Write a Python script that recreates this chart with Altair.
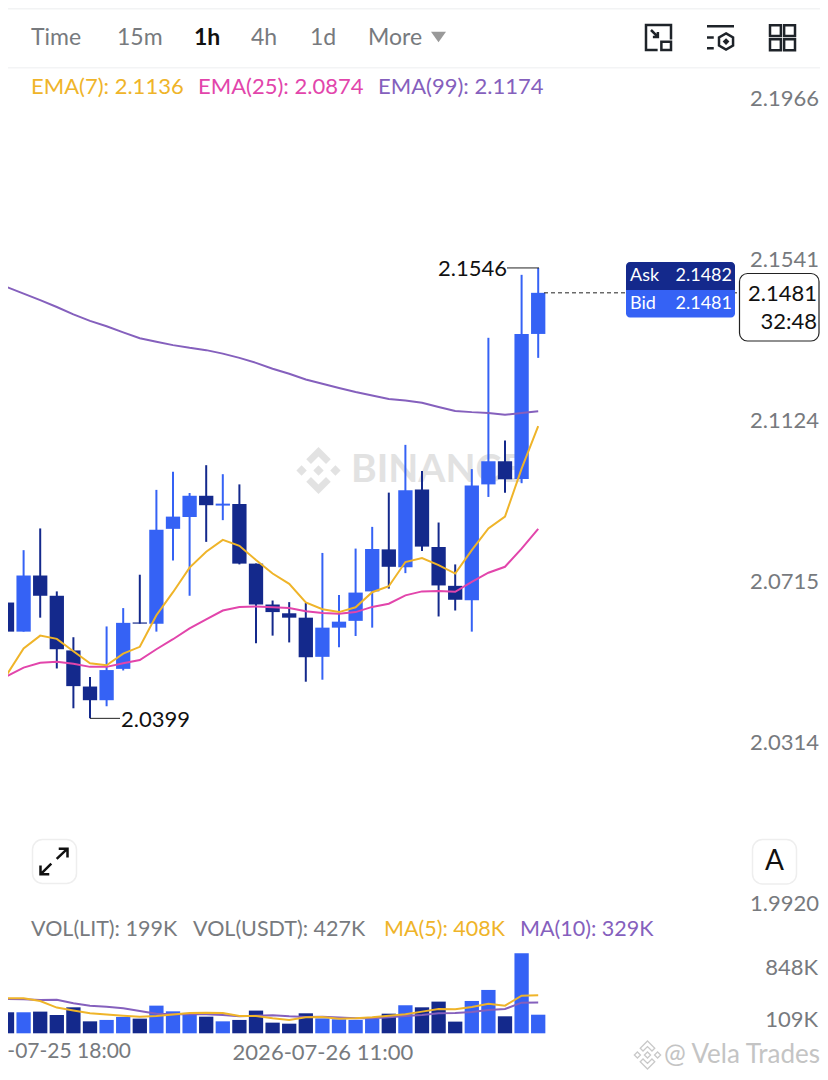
import altair as alt
import pandas as pd

FONT = "Lato"
DARK = "#14298c"
BLUE = "#3562f5"
YELLOW = "#efb429"
PINK = "#e245ab"
PURPLE = "#8560bd"
GRAY = "#777a7e"

# --- chart values -----------------------------------------------------------
opens = [2.0688, 2.0615, 2.0756, 2.0705, 2.0568, 2.0478, 2.0444, 2.0522, 2.0638, 2.0635, 2.0874,
         2.0904, 2.0958, 2.0933, 2.0937, 2.0786, 2.0683, 2.0661, 2.0650, 2.0552, 2.0625, 2.0642,
         2.0716, 2.0822, 2.0777, 2.0974, 2.0828, 2.0730, 2.0694, 2.0987, 2.1046, 2.1001, 2.1374]
closes = [2.0615, 2.0756, 2.0705, 2.0571, 2.0479, 2.0444, 2.0519, 2.0637, 2.0635, 2.0872, 2.0905,
          2.0958, 2.0934, 2.0938, 2.0786, 2.0683, 2.0664, 2.0650, 2.0551, 2.0625, 2.0640, 2.0713,
          2.0823, 2.0778, 2.0972, 2.0829, 2.0731, 2.0695, 2.0984, 2.1046, 2.1000, 2.1374, 2.1481]
highs = [2.0761, 2.0820, 2.0875, 2.0716, 2.0601, 2.0502, 2.0628, 2.0674, 2.0758, 2.0973, 2.1019,
         2.0965, 2.1036, 2.1013, 2.0987, 2.0786, 2.0693, 2.0689, 2.0687, 2.0813, 2.0707, 2.0824,
         2.0879, 2.0966, 2.1088, 2.1021, 2.0890, 2.0784, 2.1026, 2.1364, 2.1099, 2.1528, 2.1546]
lows = [2.0571, 2.0615, 2.0650, 2.0523, 2.0424, 2.0399, 2.0429, 2.0518, 2.0635, 2.0615, 2.0794,
        2.0705, 2.0841, 2.0896, 2.0784, 2.0586, 2.0605, 2.0588, 2.0490, 2.0495, 2.0576, 2.0604,
        2.0625, 2.0723, 2.0762, 2.0818, 2.0653, 2.0668, 2.0615, 2.0955, 2.0966, 2.0990, 2.1312]
ema7 = [2.0508, 2.0573, 2.0605, 2.0597, 2.0566, 2.0536, 2.0531, 2.0560, 2.0577, 2.0656, 2.0714,
        2.0776, 2.0816, 2.0846, 2.0831, 2.0795, 2.0761, 2.0735, 2.0688, 2.0671, 2.0664, 2.0676,
        2.0714, 2.0729, 2.0790, 2.0800, 2.0782, 2.0761, 2.0820, 2.0875, 2.0905, 2.1027, 2.1136]
ema25 = [2.0504, 2.0525, 2.0537, 2.0540, 2.0535, 2.0527, 2.0527, 2.0536, 2.0544, 2.0571, 2.0596,
         2.0623, 2.0646, 2.0668, 2.0677, 2.0678, 2.0676, 2.0674, 2.0666, 2.0662, 2.0660, 2.0664,
         2.0677, 2.0685, 2.0706, 2.0716, 2.0717, 2.0715, 2.0740, 2.0763, 2.0778, 2.0824, 2.0874]
ema99 = [2.1496, 2.1479, 2.1462, 2.1444, 2.1425, 2.1408, 2.1394, 2.1378, 2.1363, 2.1354, 2.1345,
         2.1338, 2.1332, 2.1323, 2.1312, 2.1299, 2.1284, 2.1271, 2.1256, 2.1245, 2.1234, 2.1224,
         2.1215, 2.1206, 2.1202, 2.1196, 2.1185, 2.1175, 2.1172, 2.1170, 2.1165, 2.1170, 2.1174]
volume = [225, 225, 232, 196, 278, 128, 143, 175, 157, 296, 235, 218, 178, 128, 143, 243, 114,
          103, 214, 160, 150, 143, 157, 210, 300, 278, 339, 125, 346, 464, 182, 856, 199]
ma5 = [375, 375, 346, 275, 243, 214, 200, 189, 178, 185, 200, 218, 221, 218, 185, 185, 160,
       143, 171, 175, 157, 160, 171, 189, 203, 232, 260, 257, 282, 317, 296, 403, 408]
ma10 = [367, 364, 357, 360, 321, 296, 285, 268, 239, 210, 203, 207, 203, 196, 182, 189, 193,
        182, 175, 178, 168, 160, 160, 171, 185, 196, 214, 218, 228, 250, 260, 328, 329]
price_ticks = [2.1966, 2.1541, 2.1124, 2.0715, 2.0314, 1.9920]
time_ticks = [19]
time_labels = ["2026-07-26 11:00"]
clipped_time_label = "-07-25 18:00"
last_price = 2.1481
high_price = 2.1546
low_price = 2.0399

df = pd.DataFrame({"i": range(len(opens)), "o": opens, "c": closes, "h": highs, "l": lows,
                   "ema7": ema7, "ema25": ema25, "ema99": ema99,
                   "v": volume, "ma5": ma5, "ma10": ma10})
df["top"] = df[["o", "c"]].max(axis=1)
df["bot"] = df[["o", "c"]].min(axis=1)
df["dir"] = ["up" if c >= o else "down" for o, c in zip(opens, closes)]

W, H = 812, 1064
x_scale = alt.Scale(domain=[1 / 16.6, 1 / 16.6 + W / 16.6], range=[0, W], nice=False, zero=False, padding=0)
y_scale = alt.Scale(type="log", domain=[1.9920, 2.1966], range=[906, 101], nice=False, zero=False)
v_scale = alt.Scale(domain=[0, 856], range=[1025.3, 945.3], nice=False, zero=False)
col_scale = alt.Scale(domain=["up", "down"], range=[BLUE, DARK])

X_NONE = alt.X("i:Q", scale=x_scale, axis=None)
label_expr = f"'{time_labels[0]}'"
base = alt.Chart(df)


def T(text, x, y, size=22, color=GRAY, align="left", weight="normal", font=FONT):
    return alt.Chart(pd.DataFrame({"t": [text]})).mark_text(
        align=align, baseline="middle", fontSize=size, color=color, fontWeight=weight, font=font
    ).encode(x=alt.value(x - 8), y=alt.value(y - 8), text="t:N")


def box(x1, y1, x2, y2, fill=None, stroke=None, sw=1.5, **kw):
    args = dict(kw)
    if fill:
        args["fill"] = fill
    else:
        args["fillOpacity"] = 0
    if stroke:
        args["stroke"] = stroke
        args["strokeWidth"] = sw
    return alt.Chart(pd.DataFrame({"a": [0]})).mark_rect(**args).encode(
        x=alt.value(x1 - 8), x2=alt.value(x2 - 8), y=alt.value(y1 - 8), y2=alt.value(y2 - 8))


def icon(path, cx, cy, side, color="#1e2329", sw=2.5, filled=False):
    args = dict(shape=path, size=side * side, opacity=1)
    if filled:
        args.update(filled=True, fill=color, strokeWidth=0)
    else:
        args.update(filled=False, stroke=color, strokeWidth=sw)
    return alt.Chart(pd.DataFrame({"a": [0]})).mark_point(**args).encode(
        x=alt.value(cx - 8), y=alt.value(cy - 8))


LOGO = ("M0 -.22L.22 0L0 .22L-.22 0Z M-.72 -.22L-.5 0L-.72 .22L-.94 0Z M.72 -.22L.94 0L.72 .22L.5 0Z "
        "M0 -1L.52 -.48L.32 -.28L0 -.6L-.32 -.28L-.52 -.48Z M0 1L.52 .48L.32 .28L0 .6L-.32 .28L-.52 .48Z")
ICON_1 = ("M1 .15L1 -1L-1 -1L-1 1L-.07 1 M.23 .33L1 .33L1 1L.23 1Z "
          "M-.6 -.6L-.05 -.05 M-.05 -.45L-.05 -.05L-.45 -.05")
ICON_2 = ("M-1 -.84L1 -.84 M-1 0L-.5 0 M-1 .8L-.5 .8 "
          "M.41 -.3L.93 0L.93 .6L.41 .9L-.11 .6L-.11 0Z M.41 .18L.53 .3L.41 .42L.29 .3Z")
ICON_3 = ("M-1 -1L-.13 -1L-.13 -.13L-1 -.13Z M.13 -1L1 -1L1 -.13L.13 -.13Z "
          "M-1 .13L-.13 .13L-.13 1L-1 1Z M.13 .13L1 .13L1 1L.13 1Z")
EXPAND = ("M-1 .95L-.2 .15 M-1 .3L-1 .95L-.35 .95 M.2 -.2L1 -.95 M.35 -.95L1 -.95L1 -.3")
TRI = "M-1 -.7L1 -.7L0 .7Z"

layers = []

# watermarks and header rules
layers += [
    box(0, 8, 828, 9.5, fill="#f2f3f4"),
    box(0, 67, 828, 68.5, fill="#f3f4f5"),
    icon(LOGO, 318.5, 470.5, 47, color="#e2e2e2", filled=True),
    T("BINANCE", 351, 470, size=39, color="#e2e2e2", weight="bold"),
]

# candles
layers.append(base.mark_rule(strokeWidth=2).encode(
    x=alt.X("i:Q", scale=x_scale, axis=alt.Axis(
        values=time_ticks, labelExpr=label_expr, domain=False, ticks=False, grid=False, title=None,
        labelFontSize=22, labelColor=GRAY, labelFont=FONT, labelPadding=0, labelBaseline="middle",
        offset=-20, labelOverlap=False, labelBound=False, labelFlush=False, labelLimit=400)),
    y=alt.Y("h:Q", scale=y_scale, axis=alt.Axis(
        values=price_ticks, format=".4f", orient="right", domain=False, ticks=False, grid=False,
        title=None, labelFontSize=22, labelColor=GRAY, labelFont=FONT, labelPadding=0,
        labelOffset=-10.5, labelAlign="left", offset=-70.5, labelOverlap=False, labelBound=False,
        labelFlush=False)),
    y2="l:Q",
    color=alt.Color("dir:N", scale=col_scale, legend=None)))
layers.append(base.mark_bar(size=14.3).encode(
    x=X_NONE,
    y=alt.Y("top:Q", scale=y_scale, axis=None),
    y2="bot:Q",
    color=alt.Color("dir:N", scale=col_scale, legend=None)))

# moving averages
for field, colour in (("ema99", PURPLE), ("ema25", PINK), ("ema7", YELLOW)):
    layers.append(base.mark_line(strokeWidth=2, color=colour).encode(
        x=X_NONE, y=alt.Y(f"{field}:Q", scale=y_scale, axis=None)))

# volume
layers.append(base.mark_bar(size=14.3).encode(
    x=X_NONE,
    y=alt.Y("v:Q", scale=v_scale, axis=None),
    color=alt.Color("dir:N", scale=col_scale, legend=None)))
for field, colour in (("ma10", PURPLE), ("ma5", YELLOW)):
    layers.append(base.mark_line(strokeWidth=2, color=colour).encode(
        x=X_NONE, y=alt.Y(f"{field}:Q", scale=v_scale, axis=None)))

# last-price line, high / low annotations
one = pd.DataFrame({"a": [0]})
layers.append(alt.Chart(one).mark_rule(color="#222", strokeWidth=1, strokeDash=[4, 3]).encode(
    x=alt.value(536), x2=alt.value(731), y=alt.Y(datum=last_price, scale=y_scale, axis=None)))
layers.append(alt.Chart(one).mark_rule(color="#222", strokeWidth=1).encode(
    x=alt.value(499), x2=alt.value(531), y=alt.Y(datum=high_price, scale=y_scale, axis=None)))
layers.append(alt.Chart(one).mark_rule(color="#222", strokeWidth=1).encode(
    x=alt.value(82), x2=alt.value(112), y=alt.Y(datum=low_price, scale=y_scale, axis=None)))
layers.append(T("2.1546", 507, 269, color="#111", align="right"))
layers.append(T("2.0399", 121, 720, color="#111"))

# ask / bid and last price
layers += [
    box(626, 262, 735, 290, fill=DARK, cornerRadiusTopLeft=4, cornerRadiusTopRight=4),
    box(626, 290, 735, 317.5, fill=BLUE, cornerRadiusBottomLeft=4, cornerRadiusBottomRight=4),
    T("Ask", 630, 276, size=18, color="#ffffff"),
    T("2.1482", 732, 276, size=18, color="#ffffff", align="right"),
    T("Bid", 630, 304, size=18, color="#ffffff"),
    T("2.1481", 732, 304, size=18, color="#ffffff", align="right"),
    box(739.5, 273.5, 819, 341, fill="#ffffff", stroke="#222222", sw=1.2, cornerRadius=8),
    T("2.1481", 817, 294, color="#111", align="right"),
    T("32:48", 817, 322, color="#111", align="right"),
]

# header
layers += [
    T("Time", 31, 38, size=23),
    T("15m", 117, 38, size=23),
    T("1h", 194, 38, size=23, color="#111", weight="bold"),
    T("4h", 251, 38, size=23),
    T("1d", 310, 38, size=23),
    T("More", 368, 38, size=23),
    icon(TRI, 438.5, 37, 15, color="#999999", filled=True),
    icon(ICON_1, 658.5, 37.5, 25),
    icon(ICON_2, 720.5, 37.5, 27),
    icon(ICON_3, 782.5, 37.7, 25),
]

# indicator legends
layers += [
    T("EMA(7): 2.1136", 31, 87, color=YELLOW),
    T("EMA(25): 2.0874", 198, 87, color=PINK),
    T("EMA(99): 2.1174", 378, 87, color=PURPLE),
    T("VOL(LIT): 199K", 31, 930, size=21.5),
    T("VOL(USDT): 427K", 193, 930, size=21.5),
    T("MA(5): 408K", 384, 930, size=21.5, color=YELLOW),
    T("MA(10): 329K", 520, 930, size=21.5, color=PURPLE),
    T("848K", 818, 968, align="right"),
    T("109K", 818, 1020, align="right"),
    T(clipped_time_label, 131, 1052, size=21, align="right"),
]

# buttons and corner watermark
layers += [
    box(32.5, 839.5, 76.5, 883.5, fill="#ffffff", stroke="#eeeeee", sw=1.5, cornerRadius=10),
    icon(EXPAND, 54, 861.5, 27, color="#111111", sw=2.5),
    box(752.5, 839.5, 796.5, 884, fill="#ffffff", stroke="#eeeeee", sw=1.5, cornerRadius=10),
    T("A", 774.5, 862, size=28, color="#111", align="center"),
    icon(LOGO, 647.5, 1055, 28, color="#c9c9c9", sw=1.3),
    T("@ Vela Trades", 820, 1055, size=26, color="#c4c4c4", align="right"),
]

chart = alt.layer(*layers).resolve_scale(y="independent").resolve_axis(x="independent").properties(
    width=W, height=H, padding=0, autosize=alt.AutoSizeParams(type="none")
).configure_view(stroke=None)

chart.save("out.html", embed_options={"renderer": "svg", "actions": False})
